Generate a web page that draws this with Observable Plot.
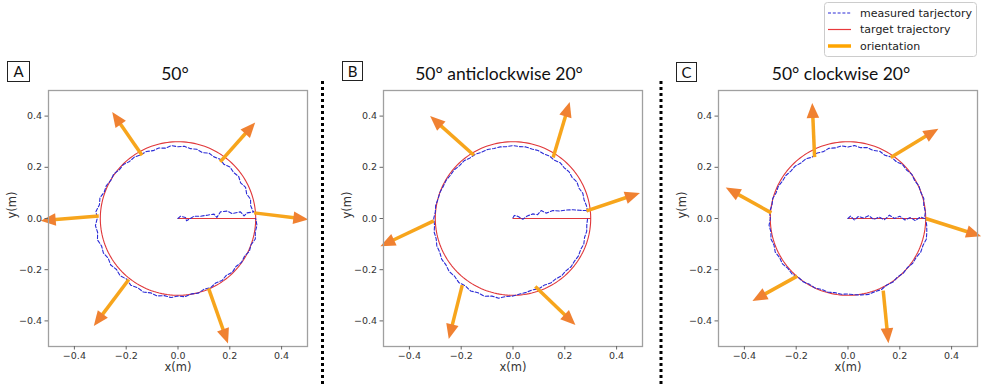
<!DOCTYPE html>
<html><head><meta charset="utf-8">
<script src="https://cdn.jsdelivr.net/npm/d3@7"></script>
<script src="https://cdn.jsdelivr.net/npm/@observablehq/plot@0.6"></script>
<style>
body{margin:0;background:#fff;}
#root{position:relative;width:983px;height:385px;overflow:hidden;background:#fff;}
.panel{position:absolute;top:0;}
.title{position:absolute;font-family:Lato,sans-serif;font-size:17.5px;color:#111;transform:translate(-50%,-50%);white-space:nowrap;}
.box{position:absolute;border:1px solid #222;font-family:Lato,sans-serif;font-size:15px;color:#111;text-align:center;box-sizing:border-box;}
</style></head>
<body><div id="root"></div>
<script>
// ---------- data ----------
const panelTitles = ["50°", "50° anticlockwise 20°", "50° clockwise 20°"];
const panelLetters = ["A", "B", "C"];
const legendLabels = ["measured tarjectory", "target trajectory", "orientation"];
const ticks = [-0.4, -0.2, 0.0, 0.2, 0.4];
const targetRadius = 0.3;

// inbound leg of measured trajectory (x, y in m)
const legXA = [0, 0.010, 0.029, 0.033, 0.062, 0.087, 0.113, 0.139, 0.150, 0.164, 0.190, 0.209, 0.241, 0.255, 0.267, 0.293];
const legYA = [0, 0.009, 0.004, -0.009, 0.009, 0.009, 0.013, 0.017, 0.004, 0.026, 0.029, 0.019, 0.026, 0.010, 0.022, 0.026];
const legXB = [0, 0.005, 0.020, 0.038, 0.055, 0.077, 0.095, 0.109, 0.128, 0.154, 0.180, 0.205, 0.231, 0.257, 0.282];
const legYB = [0.003, 0.012, 0.008, -0.003, 0.010, 0.018, 0.015, 0.031, 0.021, 0.031, 0.029, 0.033, 0.034, 0.032, 0.031];
const legXC = [0, 0.010, 0.025, 0.040, 0.060, 0.080, 0.100, 0.120, 0.140, 0.160, 0.180, 0.200, 0.220, 0.240, 0.260, 0.280, 0.295];
const legYC = [0, 0.010, -0.006, 0.008, 0.002, 0.011, -0.004, 0.006, -0.005, 0.013, 0.000, 0.009, -0.006, 0.004, -0.008, 0.006, 0.000];

// measured radius (m) every 5°, from 5° to 360°
const radA = [0.292,0.285,0.290,0.282,0.288,0.279,0.286,0.280,0.284,0.276,0.283,0.278,0.282,0.274,0.280,0.277,0.283,0.280,
  0.286,0.279,0.285,0.282,0.289,0.287,0.293,0.291,0.298,0.296,0.303,0.299,0.305,0.303,0.312,0.308,0.318,0.312,
  0.320,0.315,0.322,0.314,0.318,0.311,0.317,0.310,0.316,0.309,0.318,0.312,0.317,0.309,0.313,0.306,0.310,0.303,
  0.307,0.299,0.302,0.294,0.298,0.291,0.296,0.290,0.297,0.292,0.299,0.296,0.304,0.300,0.309,0.303,0.306,0.300];
const radB = [0.290,0.288,0.284,0.287,0.281,0.285,0.279,0.283,0.280,0.284,0.278,0.282,0.279,0.283,0.281,0.284,0.282,0.285,
  0.282,0.284,0.283,0.287,0.286,0.290,0.289,0.294,0.292,0.296,0.295,0.298,0.297,0.300,0.299,0.303,0.301,0.306,
  0.304,0.309,0.307,0.313,0.312,0.318,0.316,0.322,0.319,0.326,0.321,0.327,0.320,0.323,0.314,0.316,0.306,0.303,
  0.296,0.293,0.289,0.292,0.287,0.291,0.288,0.292,0.289,0.293,0.290,0.292,0.288,0.291,0.286,0.289,0.286,0.288];
const radC = [0.300,0.297,0.303,0.299,0.302,0.297,0.301,0.295,0.298,0.290,0.293,0.285,0.290,0.283,0.287,0.281,0.286,0.279,
  0.285,0.280,0.284,0.278,0.282,0.277,0.284,0.283,0.289,0.288,0.293,0.292,0.297,0.295,0.301,0.298,0.304,0.300,
  0.306,0.302,0.308,0.304,0.310,0.305,0.309,0.303,0.306,0.299,0.302,0.297,0.300,0.295,0.298,0.294,0.297,0.295,
  0.299,0.303,0.307,0.304,0.306,0.300,0.303,0.298,0.302,0.299,0.305,0.304,0.310,0.308,0.313,0.309,0.305,0.300];

// orientation arrows: [x start, y start, x tip, y tip] (m)
const arrowsA = [[0.294,0.022,0.503,-0.004],[0.163,0.221,0.298,0.375],[-0.139,0.247,-0.254,0.416],
                 [-0.306,0.010,-0.530,-0.009],[-0.190,-0.238,-0.325,-0.420],[0.118,-0.273,0.193,-0.488]];
const arrowsB = [[0.284,0.030,0.490,0.100],[0.155,0.238,0.219,0.455],[-0.151,0.247,-0.320,0.400],
                 [-0.306,-0.009,-0.512,-0.108],[-0.196,-0.260,-0.248,-0.471],[0.086,-0.266,0.241,-0.416]];
const arrowsC = [[0.300,0.000,0.514,-0.069],[0.165,0.238,0.349,0.351],[-0.129,0.240,-0.138,0.451],
                 [-0.296,0.022,-0.472,0.121],[-0.196,-0.225,-0.369,-0.322],[0.136,-0.282,0.156,-0.487]];

// ---------- styles ----------
const blue = "#2b2bd6", red = "#e0373a", shaft = "#f7a51c", head = "#f08131";
const frameW = 259, frameH = 256;
const SVGNS = "http://www.w3.org/2000/svg";

const root = document.getElementById("root");

function makePanel(legX, legY, rad, arrows, left) {
  const meas = legX.map((x, i) => ({x, y: legY[i]}))
    .concat(rad.map((r, i) => { const a = (5 + i * 5) * Math.PI / 180; return {x: r * Math.cos(a), y: r * Math.sin(a)}; }));
  const target = [{x: 0, y: 0}].concat(d3.range(0, 361, 2).map(d => ({x: targetRadius * Math.cos(d * Math.PI / 180), y: targetRadius * Math.sin(d * Math.PI / 180)})));
  const arr = arrows.map(([x1, y1, x2, y2]) => ({x1, y1, x2, y2,
    rot: Math.atan2((x2 - x1) * frameW, (y2 - y1) * frameH) * 180 / Math.PI}));
  const triangle = {draw(ctx, l, r) { ctx.moveTo(0, -l); ctx.lineTo(r, 0); ctx.lineTo(-r, 0); ctx.closePath(); }};
  const p = Plot.plot({
    width: 322, height: 385, marginLeft: 48, marginRight: 15, marginTop: 90, marginBottom: 39,
    style: {fontFamily: "DejaVu Sans, sans-serif", fontSize: "9.5px", background: "transparent", overflow: "visible"},
    x: {domain: [-0.5, 0.5]},
    y: {domain: [-0.5, 0.5]},
    marks: [
      Plot.line(target, {x: "x", y: "y", stroke: red, strokeWidth: 1.1}),
      Plot.line(meas, {x: "x", y: "y", stroke: blue, strokeWidth: 1.1, strokeDasharray: "3.5,2"}),
      Plot.arrow(arr, {x1: "x1", y1: "y1", x2: "x2", y2: "y2", stroke: shaft, strokeWidth: 3.5, headLength: 0, insetEnd: 12, strokeLinecap: "butt"}),
      Plot.vector(arr, {x: "x2", y: "y2", rotate: "rot", length: 15, r: 6.3, anchor: "end", shape: triangle, fill: head, stroke: "none"}),
      Plot.frame({stroke: "#a0a0a0", strokeWidth: 1.3}),
      Plot.axisX({ticks, tickFormat: d3.format(".1f"), tickSize: 3.5, tickPadding: 2, label: null, color: "#333", stroke: "#666"}),
      Plot.axisY({ticks, tickFormat: d3.format(".1f"), tickSize: 3.5, tickPadding: 3, label: null, color: "#333", stroke: "#666"}),
      Plot.text(["x(m)"], {frameAnchor: "bottom", dy: 24, fontSize: 11.5, fill: "#333"}),
      Plot.text(["y(m)"], {frameAnchor: "left", dx: -36, rotate: -90, fontSize: 11.5, fill: "#333"})
    ]
  });
  p.classList.add("panel");
  p.style.left = left + "px";
  root.appendChild(p);
}

makePanel(legXA, legYA, radA, arrowsA, 0);
makePanel(legXB, legYB, radB, arrowsB, 335);
makePanel(legXC, legYC, radC, arrowsC, 670);

// titles & letter boxes
const titleX = [175, 499, 841];
const boxes = [[7, 61, 23, 21], [342, 61, 21, 20], [676, 62, 21, 20]];
panelTitles.forEach((t, i) => {
  const d = document.createElement("div");
  d.className = "title"; d.textContent = t;
  d.style.left = titleX[i] + "px"; d.style.top = "73px";
  root.appendChild(d);
  const b = document.createElement("div");
  const [bx, by, bw, bh] = boxes[i];
  b.className = "box"; b.textContent = panelLetters[i];
  Object.assign(b.style, {left: bx + "px", top: by + "px", width: bw + "px", height: bh + "px", lineHeight: (bh - 2) + "px"});
  root.appendChild(b);
});

// overlay svg: dotted separators + legend
const ov = document.createElementNS(SVGNS, "svg");
ov.setAttribute("width", 983); ov.setAttribute("height", 385);
ov.style.position = "absolute"; ov.style.left = "0"; ov.style.top = "0"; ov.style.pointerEvents = "none";
function el(name, attrs, text) {
  const e = document.createElementNS(SVGNS, name);
  for (const k in attrs) e.setAttribute(k, attrs[k]);
  if (text != null) e.textContent = text;
  ov.appendChild(e);
  return e;
}
[322.5, 661].forEach(x => el("line", {x1: x, x2: x, y1: 81, y2: 385, stroke: "#000", "stroke-width": 3, "stroke-dasharray": "3,3"}));

el("rect", {x: 824.5, y: 2.5, width: 152, height: 54, rx: 3, fill: "#fff", stroke: "#ccc", "stroke-width": 1});
const legendY = [13, 29.5, 46];
const sampleStyles = [
  {stroke: blue, "stroke-width": 1, "stroke-dasharray": "3,1.8"},
  {stroke: "#e8393c", "stroke-width": 1.2},
  {stroke: "#ffa500", "stroke-width": 3.5}
];
legendLabels.forEach((t, i) => {
  el("line", Object.assign({x1: 828, x2: 851, y1: legendY[i], y2: legendY[i]}, sampleStyles[i]));
  el("text", {x: 860, y: legendY[i], dy: "0.35em", "font-family": "DejaVu Sans, sans-serif", "font-size": 11, fill: "#222"}, t);
});
root.appendChild(ov);
</script>
</body></html>
